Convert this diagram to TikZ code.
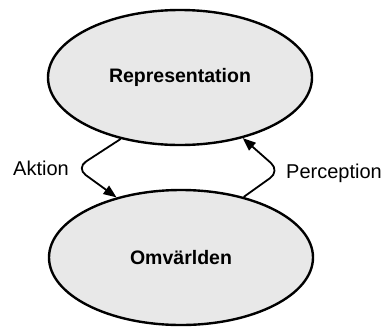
\documentclass[tikz,border=0pt]{standalone}
\usepackage{fontspec}
\setmainfont{Liberation Sans}
\usetikzlibrary{shapes.geometric,arrows.meta}
\begin{document}
\begin{tikzpicture}[x=1pt,y=-1pt,
  blob/.style={ellipse,draw=black,line width=2.4pt,fill=black!9,
    minimum width=264pt,minimum height=135pt,inner sep=0pt,
    font=\fontsize{19.5}{22}\selectfont\bfseries},
  lbl/.style={inner sep=0pt,font=\fontsize{20}{22}\selectfont},
  arr/.style={line width=1.8pt,rounded corners=12pt,
    -{Triangle[length=13pt,width=10pt]}}]
\useasboundingbox (0,0) rectangle (387,327);
\node[blob] (rep) at (180,77.5) {Representation};
\node[blob] (omv) at (181,257.5) {Omvärlden};
\node[lbl] (ak) at (41,168) {Aktion};
\node[lbl] (pe) at (334,173) {Perception};
\coordinate (c1) at (76,168);
\coordinate (c2) at (280,171);
\draw[arr] (rep.226) -- (c1) -- (omv.137);
\draw[arr] (omv.44) -- (c2) -- (rep.316);
\end{tikzpicture}
\end{document}
